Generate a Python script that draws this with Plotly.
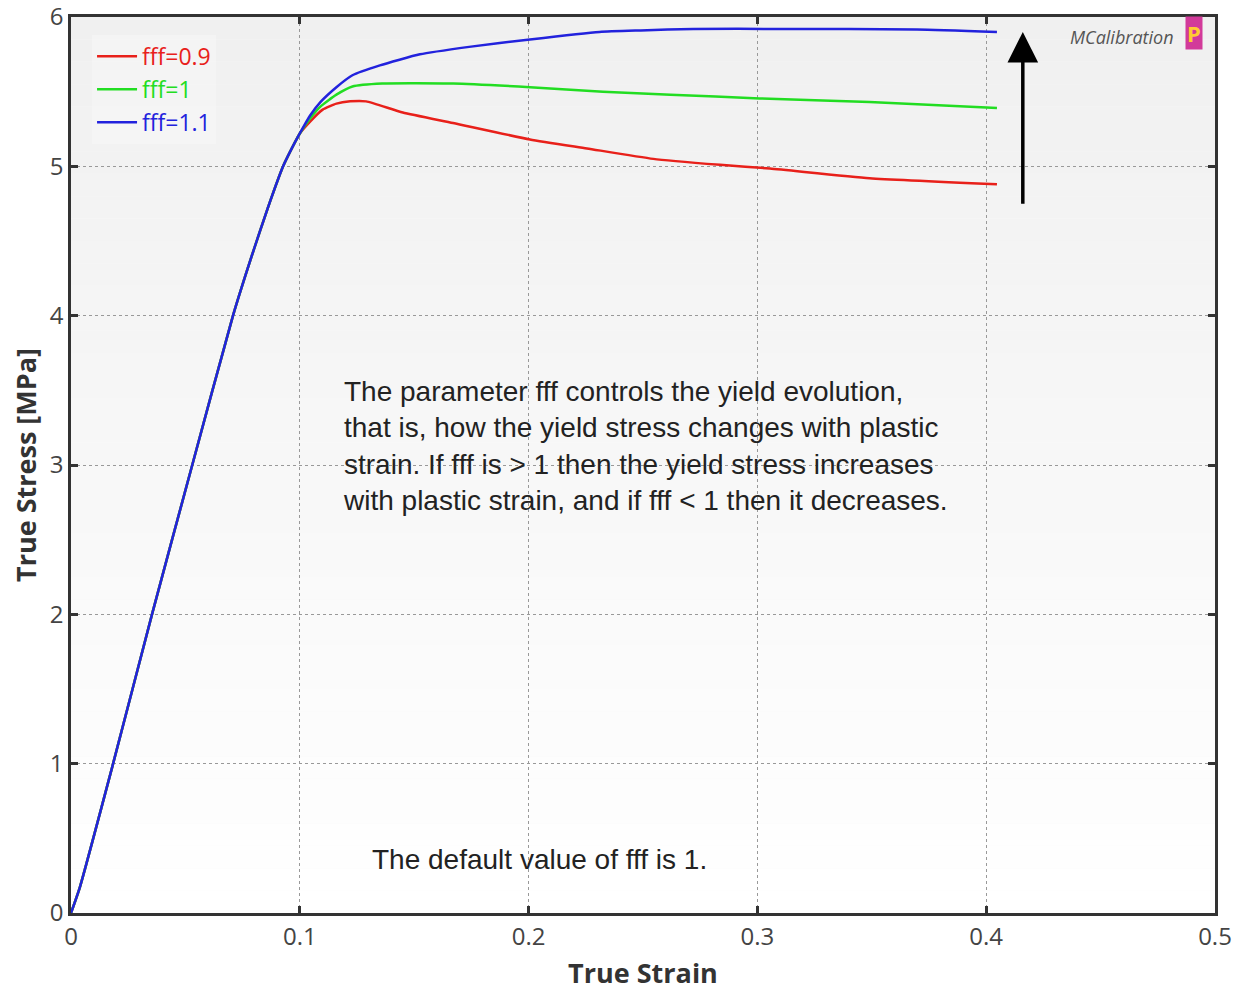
import plotly.graph_objects as go

# shared elastic part
elastic_strain = [0.0, 0.0039, 0.0184, 0.0354, 0.053, 0.0708, 0.0790, 0.0860, 0.0927, 0.0965, 0.1000]
elastic_stress = [0.0, 0.174, 1.00, 2.00, 3.00, 4.00, 4.40, 4.72, 5.00, 5.12, 5.22]

red_strain = [0.1045, 0.110, 0.116, 0.122, 0.129, 0.145, 0.167, 0.2006, 0.2255, 0.2545, 0.2837, 0.3055, 0.349, 0.4047]
red_stress = [5.30, 5.38, 5.42, 5.435, 5.435, 5.36, 5.29, 5.18, 5.12, 5.05, 5.01, 4.985, 4.92, 4.88]

green_strain = [0.1045, 0.109, 0.116, 0.123, 0.136, 0.167, 0.2006, 0.2325, 0.262, 0.301, 0.349, 0.4047]
green_stress = [5.32, 5.40, 5.48, 5.535, 5.555, 5.555, 5.53, 5.50, 5.48, 5.455, 5.43, 5.39]

blue_strain = [0.1045, 0.109, 0.116, 0.123, 0.135, 0.1525, 0.174, 0.2006, 0.231, 0.249, 0.272, 0.31, 0.3697, 0.4047]
blue_stress = [5.34, 5.43, 5.53, 5.61, 5.676, 5.75, 5.80, 5.85, 5.90, 5.91, 5.92, 5.92, 5.917, 5.90]

series_names = ["fff=0.9", "fff=1", "fff=1.1"]
series_colors = ["#e8201a", "#22dd22", "#2222dd"]

x_ticks = [0, 0.1, 0.2, 0.3, 0.4, 0.5]
y_ticks = [0, 1, 2, 3, 4, 5, 6]

fig = go.Figure()
data = [(red_strain, red_stress), (green_strain, green_stress), (blue_strain, blue_stress)]
for (sx, sy), name, col in zip(data, series_names, series_colors):
    fig.add_trace(go.Scatter(
        x=elastic_strain + sx, y=elastic_stress + sy, mode="lines",
        line=dict(color=col, width=2.5, shape="spline", smoothing=0.5),
        name=f"<span style='color:{col}'>{name}</span>",
    ))

# background vertical gradient (light gray top -> white bottom)
n = 40
for i in range(n):
    t = i / (n - 1)
    v = int(round(255 - (255 - 240) * t))
    fig.add_shape(type="rect", xref="paper", yref="paper",
                  x0=0, x1=1, y0=i / n, y1=(i + 1) / n,
                  fillcolor=f"rgb({v},{v},{v})", line=dict(width=0), layer="below")

axis_common = dict(
    showline=True, linecolor="#333333", linewidth=2.5, mirror="ticks",
    ticks="inside", ticklen=7, tickwidth=2.5, tickcolor="#333333",
    showgrid=True, gridcolor="#999999", griddash="dot", gridwidth=1,
    zeroline=False, automargin=False, ticklabeloverflow="allow",
    tickfont=dict(family="Open Sans", size=24, color="#444444"),
)

title_font = dict(family="Open Sans", size=27, color="#333333")
fig.update_xaxes(range=[0, 0.5], tickvals=x_ticks, ticktext=[str(v) for v in x_ticks],
                 title=dict(text="<b>True Strain</b>", font=title_font, standoff=14),
                 **axis_common)
fig.update_yaxes(range=[0, 6], tickvals=y_ticks, ticktext=[str(v) for v in y_ticks],
                 title=dict(text="<b>True Stress [MPa]</b>", font=title_font, standoff=6),
                 **axis_common)

text_lines = [
    "The parameter fff controls the yield evolution,",
    "that is, how the yield stress changes with plastic",
    "strain. If fff is > 1 then the yield stress increases",
    "with plastic strain, and if fff < 1 then it decreases.",
]
fig.add_annotation(
    x=0.118, y=3.13, xref="x", yref="y", xanchor="left", yanchor="middle",
    text="<br>".join(text_lines), align="left", showarrow=False,
    font=dict(family="Liberation Sans", size=28, color="#222222"),
)
fig.add_annotation(
    x=0.1307, y=0.355, xref="x", yref="y", xanchor="left", yanchor="middle",
    text="The default value of fff is 1.", showarrow=False,
    font=dict(family="Liberation Sans", size=28, color="#222222"),
)

# arrow
fig.add_annotation(
    x=0.416, y=5.90, ax=0.416, ay=4.74, xref="x", yref="y", axref="x", ayref="y",
    text="", showarrow=True, arrowhead=2, arrowsize=1.75, arrowwidth=3.5, arrowcolor="#000000",
)

# logo
fig.add_annotation(
    x=0.966, y=0.978, xref="paper", yref="paper", xanchor="right", yanchor="middle",
    text="<i>MCalibration</i>", showarrow=False,
    font=dict(family="Open Sans", size=18, color="#555555"),
)
fig.add_annotation(
    x=0.9895, y=0.9825, xref="paper", yref="paper", xanchor="right", yanchor="middle",
    text="<b>P</b>", showarrow=False, bgcolor="#d23a9a", borderpad=1,
    font=dict(family="Open Sans", size=22, color="#ffcc33"),
)

fig.update_layout(
    width=1245, height=993,
    margin=dict(l=71, r=30, t=17, b=80),
    paper_bgcolor="white", plot_bgcolor="#f8f8f8",
    showlegend=True,
    legend=dict(x=0.0184, y=0.98, xanchor="left", yanchor="top",
                bgcolor="rgba(245,245,245,0.8)", borderwidth=0,
                font=dict(family="Open Sans", size=23), tracegroupgap=0, itemwidth=40),
)

fig.write_html("out.html")
